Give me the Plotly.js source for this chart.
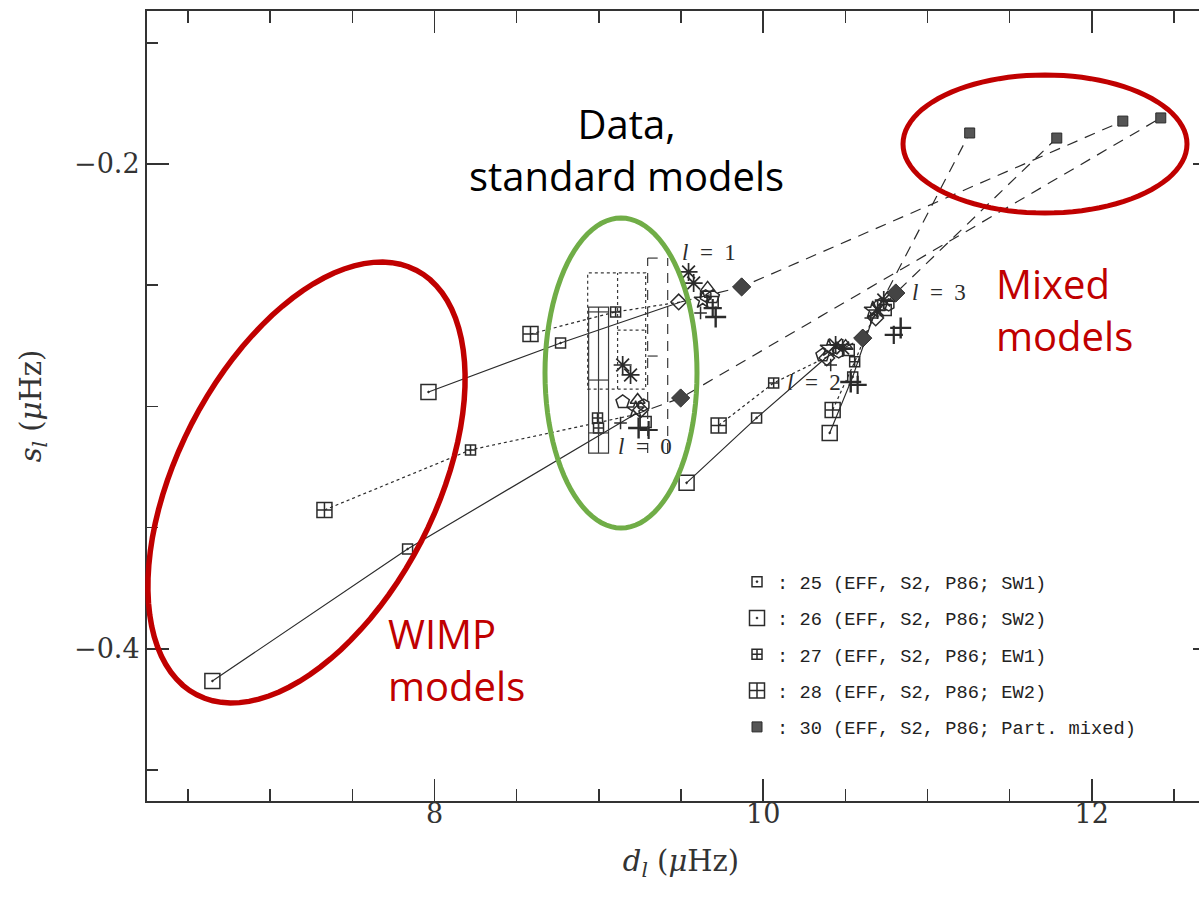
<!DOCTYPE html>
<html>
<head>
<meta charset="utf-8">
<script src="https://cdn.plot.ly/plotly-3.0.1.min.js"></script>
<style>
  html, body { margin: 0; padding: 0; background: #fff; overflow: hidden; }
  #chart { width: 1221px; height: 897px; }
</style>
</head>
<body>
<div id="chart"></div>
<script>
// Small frequency separations d_l and s_l (muHz) for degrees l = 0..3
const degrees = [0, 1, 2, 3];

// Model 25 (EFF, S2, P86; SW1)
const m25D = [7.836, 8.767, 9.960, 10.545];
const m25S = [-0.3588, -0.2738, -0.3047, -0.2878];
// Model 26 (EFF, S2, P86; SW2)
const m26D = [6.648, 7.963, 9.534, 10.405];
const m26S = [-0.4132, -0.2940, -0.3315, -0.3109];
// Model 27 (EFF, S2, P86; EW1)
const m27D = [8.219, 9.102, 10.064, 10.557];
const m27S = [-0.3179, -0.2610, -0.2903, -0.2816];
// Model 28 (EFF, S2, P86; EW2)
const m28D = [7.330, 8.584, 9.729, 10.423];
const m28S = [-0.3427, -0.2701, -0.3078, -0.3014];
// Model 30 (EFF, S2, P86; Part. mixed)
const m30D = [12.420, 12.189, 11.257, 11.787];
const m30S = [-0.1810, -0.1823, -0.1872, -0.1893];
// Intermediate mixed model (filled diamonds)
const mixD = [9.498, 9.869, 10.606, 10.807];
const mixS = [-0.2965, -0.2507, -0.2718, -0.2532];
// Reference standard model, where the model sequences start
const stdD = [9.212, 9.498, 10.387, 10.667];
const stdS = [-0.3035, -0.2569, -0.2796, -0.2635];

// Other standard models
const astAD = [9.145, 9.546, 10.441, 10.697];
const astAS = [-0.2829, -0.2445, -0.2746, -0.2602];
const astBD = [9.193, 9.577, 10.484, 10.734];
const astBS = [-0.2870, -0.2491, -0.2759, -0.2561];
const pentD = [9.145, 9.693, 10.362, 10.715];
const pentS = [-0.2981, -0.2548, -0.2788, -0.2581];
const triD = [9.236, 9.662, 10.502, 10.758];
const triS = [-0.2973, -0.2511, -0.2751, -0.2553];
const diaOD = [9.254, 9.486, 10.387, 10.685];
const diaOS = [-0.3014, -0.2569, -0.2800, -0.2635];
const sqOD = [9.285, 9.693, 10.521, 10.746];
const sqOS = [-0.3064, -0.2569, -0.2767, -0.2602];
const hexD = [9.273, 9.650, 10.460, 10.764];
const hexS = [-0.2994, -0.2544, -0.2775, -0.2581];
const starD = [9.224, 9.632, 10.399, 10.667];
const starS = [-0.3014, -0.2561, -0.2759, -0.2602];
const plusAD = [9.242, 9.711, 10.533, 10.837];
const plusAS = [-0.3089, -0.2631, -0.2899, -0.2676];
const plusBD = [9.303, 9.693, 10.575, 10.795];
const plusBS = [-0.3097, -0.2594, -0.2911, -0.2705];
const plusCD = [9.132, 9.619, 10.411, 10.655];
const plusCS = [-0.3068, -0.2614, -0.2829, -0.2635];
const extraD = [8.992, 8.998];
const extraS = [-0.3047, -0.3089];

// Observational error boxes (d range, s range)
const solidBoxD = [8.938, 9.059];
const solidBoxS = [-0.3192, -0.2590];
const solidMidD = 8.998;
const solidCutS = [-0.2610, -0.2891, -0.3109];
const dotBoxD = [8.932, 9.285];
const dotBoxS = [-0.2928, -0.2449];
const dotMidD = 9.114;
const dotCutS = -0.2685;
const dashLinesD = [9.297, 9.419];
const dashLinesS = [-0.3192, -0.2388];
const dashTickD = [9.297, 9.358];
const dashTickS = [-0.2388, -0.2792];

const INK = '#2b2b2b';
const RED = '#C00000';
const GREEN = '#70AD47';

// join per-degree sequences into one polyline with gaps between degrees
function chain(pairs) {
  const x = [], y = [];
  degrees.forEach(l => {
    pairs.forEach(([D, S]) => { x.push(D[l]); y.push(S[l]); });
    x.push(null); y.push(null);
  });
  return { x, y };
}

const solid = chain([[m26D, m26S], [m25D, m25S], [stdD, stdS]]);
const dotted = chain([[m28D, m28S], [m27D, m27S], [stdD, stdS]]);
const dashed = chain([[stdD, stdS], [mixD, mixS], [m30D, m30S]]);

function lineTrace(seq, dash) {
  return { x: seq.x, y: seq.y, mode: 'lines', type: 'scatter', showlegend: false,
           hoverinfo: 'skip', line: { color: INK, width: 1.2, dash: dash } };
}

function markerTrace(D, S, symbol, size, opts) {
  opts = opts || {};
  return Object.assign({
    x: D, y: S, mode: 'markers', type: 'scatter', showlegend: false,
    marker: { symbol: symbol, size: size, color: opts.fill || INK,
              line: { color: INK, width: opts.lw || 1.5 } }
  }, opts.extra || {});
}

const traces = [
  lineTrace(solid, 'solid'),
  lineTrace(dotted, 'dot'),
  lineTrace(dashed, '11px,8px'),
  markerTrace(astAD, astAS, 'asterisk-open', 15, { lw: 1.7 }),
  markerTrace(astBD, astBS, 'asterisk-open', 15, { lw: 1.7 }),
  markerTrace(pentD, pentS, 'pentagon-open', 14),
  markerTrace(triD, triS, 'triangle-up-open', 13),
  markerTrace(diaOD, diaOS, 'diamond-open', 12),
  markerTrace(sqOD, sqOS, 'square-open', 11),
  markerTrace(hexD, hexS, 'hexagon-open', 12),
  markerTrace(starD, starS, 'star-open', 13),
  markerTrace(plusAD, plusAS, 'cross-thin-open', 15, { lw: 2.4 }),
  markerTrace(plusBD, plusBS, 'cross-thin-open', 13, { lw: 2.2 }),
  markerTrace(plusCD, plusCS, 'cross-thin-open', 9, { lw: 1.5 }),
  markerTrace(extraD, extraS, 'square-cross-open', 10),
  markerTrace(mixD, mixS, 'diamond', 14, { fill: '#444', lw: 1 }),
  markerTrace(m25D, m25S, 'square-open-dot', 10,
    { extra: { name: ': 25 (EFF, S2, P86; SW1)', showlegend: true, legendgroup: 'g25' } }),
  markerTrace(m26D, m26S, 'square-open-dot', 15,
    { extra: { name: ': 26 (EFF, S2, P86; SW2)', showlegend: true, legendgroup: 'g26' } }),
  markerTrace(m27D, m27S, 'square-cross-open', 10,
    { extra: { name: ': 27 (EFF, S2, P86; EW1)', showlegend: true, legendgroup: 'g27' } }),
  markerTrace(m28D, m28S, 'square-cross-open', 15,
    { extra: { name: ': 28 (EFF, S2, P86; EW2)', showlegend: true, legendgroup: 'g28' } }),
  markerTrace(m30D, m30S, 'square', 10,
    { fill: '#555', lw: 1, extra: { name: ': 30 (EFF, S2, P86; Part. mixed)', showlegend: true, legendgroup: 'g30' } })
];

// plot-area geometry in pixels, used to place the hand-drawn ellipses
const PLOT = { l: 147, t: 11, w: 1068, h: 790 };
function ellipsePath(cx, cy, a, b, deg) {
  const th = deg * Math.PI / 180;
  let p = '';
  for (let i = 0; i <= 96; i++) {
    const t = i / 96 * 2 * Math.PI;
    const ex = a * Math.cos(t), ey = b * Math.sin(t);
    const px = cx + ex * Math.cos(th) + ey * Math.sin(th);
    const py = cy - ex * Math.sin(th) + ey * Math.cos(th);
    const X = (px - PLOT.l) / PLOT.w, Y = 1 - (py - PLOT.t) / PLOT.h;
    p += (i ? 'L' : 'M') + X.toFixed(5) + ',' + Y.toFixed(5);
  }
  return p + 'Z';
}

const boxLine = (dash) => ({ color: '#3a3a3a', width: 1.2, dash: dash });
const shapes = [
  // solid error box with its internal lines
  { type: 'rect', xref: 'x', yref: 'y', x0: solidBoxD[0], x1: solidBoxD[1], y0: solidBoxS[0], y1: solidBoxS[1], line: boxLine('solid') },
  { type: 'line', xref: 'x', yref: 'y', x0: solidMidD, x1: solidMidD, y0: solidBoxS[0], y1: solidBoxS[1], line: boxLine('solid') },
  ...solidCutS.map(s => ({ type: 'line', xref: 'x', yref: 'y', x0: solidBoxD[0], x1: solidBoxD[1], y0: s, y1: s, line: boxLine('solid') })),
  // dotted error boxes
  { type: 'rect', xref: 'x', yref: 'y', x0: dotBoxD[0], x1: dotBoxD[1], y0: dotBoxS[0], y1: dotBoxS[1], line: boxLine('dot') },
  { type: 'line', xref: 'x', yref: 'y', x0: dotMidD, x1: dotMidD, y0: dotBoxS[0], y1: dotBoxS[1], line: boxLine('dot') },
  { type: 'line', xref: 'x', yref: 'y', x0: dotMidD, x1: dotBoxD[1], y0: dotCutS, y1: dotCutS, line: boxLine('dot') },
  // dashed error bars
  ...dashLinesD.map(d => ({ type: 'line', xref: 'x', yref: 'y', x0: d, x1: d, y0: dashLinesS[0], y1: dashLinesS[1], line: boxLine('10px,7px') })),
  ...dashTickS.map(s => ({ type: 'line', xref: 'x', yref: 'y', x0: dashTickD[0], x1: dashTickD[1], y0: s, y1: s, line: boxLine('solid') })),
  // highlighted groups
  { type: 'path', xref: 'paper', yref: 'paper', path: ellipsePath(306.5, 482.5, 239, 129, 62.7), line: { color: RED, width: 5.5 } },
  { type: 'path', xref: 'paper', yref: 'paper', path: ellipsePath(621, 373, 76, 155, 0), line: { color: GREEN, width: 5 } },
  { type: 'path', xref: 'paper', yref: 'paper', path: ellipsePath(1045, 144, 142, 69, 0), line: { color: RED, width: 5 } }
];

const lab = (x, y, txt) => ({ x: x, y: y, xref: 'x', yref: 'y', text: txt, showarrow: false,
  font: { family: 'Liberation Serif', size: 23, color: INK } });

const annotations = [
  lab(9.668, -0.2363, '<i>l</i>  =  1'),
  lab(9.279, -0.3167, '<i>l</i>  =  0'),
  lab(10.307, -0.2903, '<i>l</i>  =  2'),
  lab(11.068, -0.2528, '<i>l</i>  =  3'),
  { x: 9.169, y: -0.1942, xref: 'x', yref: 'y', text: 'Data,<br>standard models', showarrow: false,
    align: 'center', font: { family: 'Open Sans', size: 40, color: '#000' } },
  { x: 11.403, y: -0.2602, xref: 'x', yref: 'y', xanchor: 'left', text: 'Mixed<br>models', showarrow: false,
    align: 'left', font: { family: 'Open Sans', size: 40, color: RED } },
  { x: 7.702, y: -0.4045, xref: 'x', yref: 'y', xanchor: 'left', text: 'WIMP<br>models', showarrow: false,
    align: 'left', font: { family: 'Open Sans', size: 40, color: RED } }
];

const tickFont = { family: 'DejaVu Serif', size: 27, color: '#333' };
const titleFont = { family: 'DejaVu Serif', size: 29, color: '#333' };

const layout = {
  width: 1221, height: 897,
  margin: { l: PLOT.l, r: 1221 - PLOT.l - PLOT.w, t: PLOT.t, b: 897 - PLOT.t - PLOT.h },
  paper_bgcolor: '#fff', plot_bgcolor: '#fff',
  showlegend: true,
  legend: { x: (737 - PLOT.l) / PLOT.w, y: 1 - (563 - PLOT.t) / PLOT.h, xanchor: 'left', yanchor: 'top',
            traceorder: 'grouped', tracegroupgap: 9, bgcolor: 'rgba(0,0,0,0)',
            font: { family: 'Liberation Mono', size: 18.7, color: '#222' } },
  xaxis: {
    range: [6.25, 12.75], showline: true, linecolor: '#333', linewidth: 2, mirror: 'ticks',
    ticks: 'inside', ticklen: 22, tickwidth: 1.5, tickcolor: '#333', ticklabelstandoff: -12,
    tickmode: 'linear', tick0: 0, dtick: 2, showgrid: false, zeroline: false, tickfont: tickFont,
    minor: { ticks: 'inside', ticklen: 12, tickwidth: 1.5, tickcolor: '#333', tickmode: 'linear', tick0: 0, dtick: 0.5, showgrid: false },
    title: { text: '<i>d</i><sub><i>l</i></sub> (<i>μ</i>Hz)', font: titleFont, standoff: 22 }
  },
  yaxis: {
    range: [-0.4627, -0.1369], showline: true, linecolor: '#333', linewidth: 2, mirror: 'ticks',
    ticks: 'inside', ticklen: 22, tickwidth: 1.5, tickcolor: '#333',
    tickmode: 'linear', tick0: 0, dtick: 0.2, tickformat: '.1f', showgrid: false, zeroline: false, tickfont: tickFont,
    minor: { ticks: 'inside', ticklen: 11, tickwidth: 1.5, tickcolor: '#333', tickmode: 'linear', tick0: 0, dtick: 0.05, showgrid: false },
    title: { text: '<i>s</i><sub><i>l</i></sub> (<i>μ</i>Hz)', font: titleFont, standoff: 24 }
  },
  shapes: shapes,
  annotations: annotations
};

Plotly.newPlot('chart', traces, layout, { staticPlot: true, displayModeBar: false });
</script>
</body>
</html>
